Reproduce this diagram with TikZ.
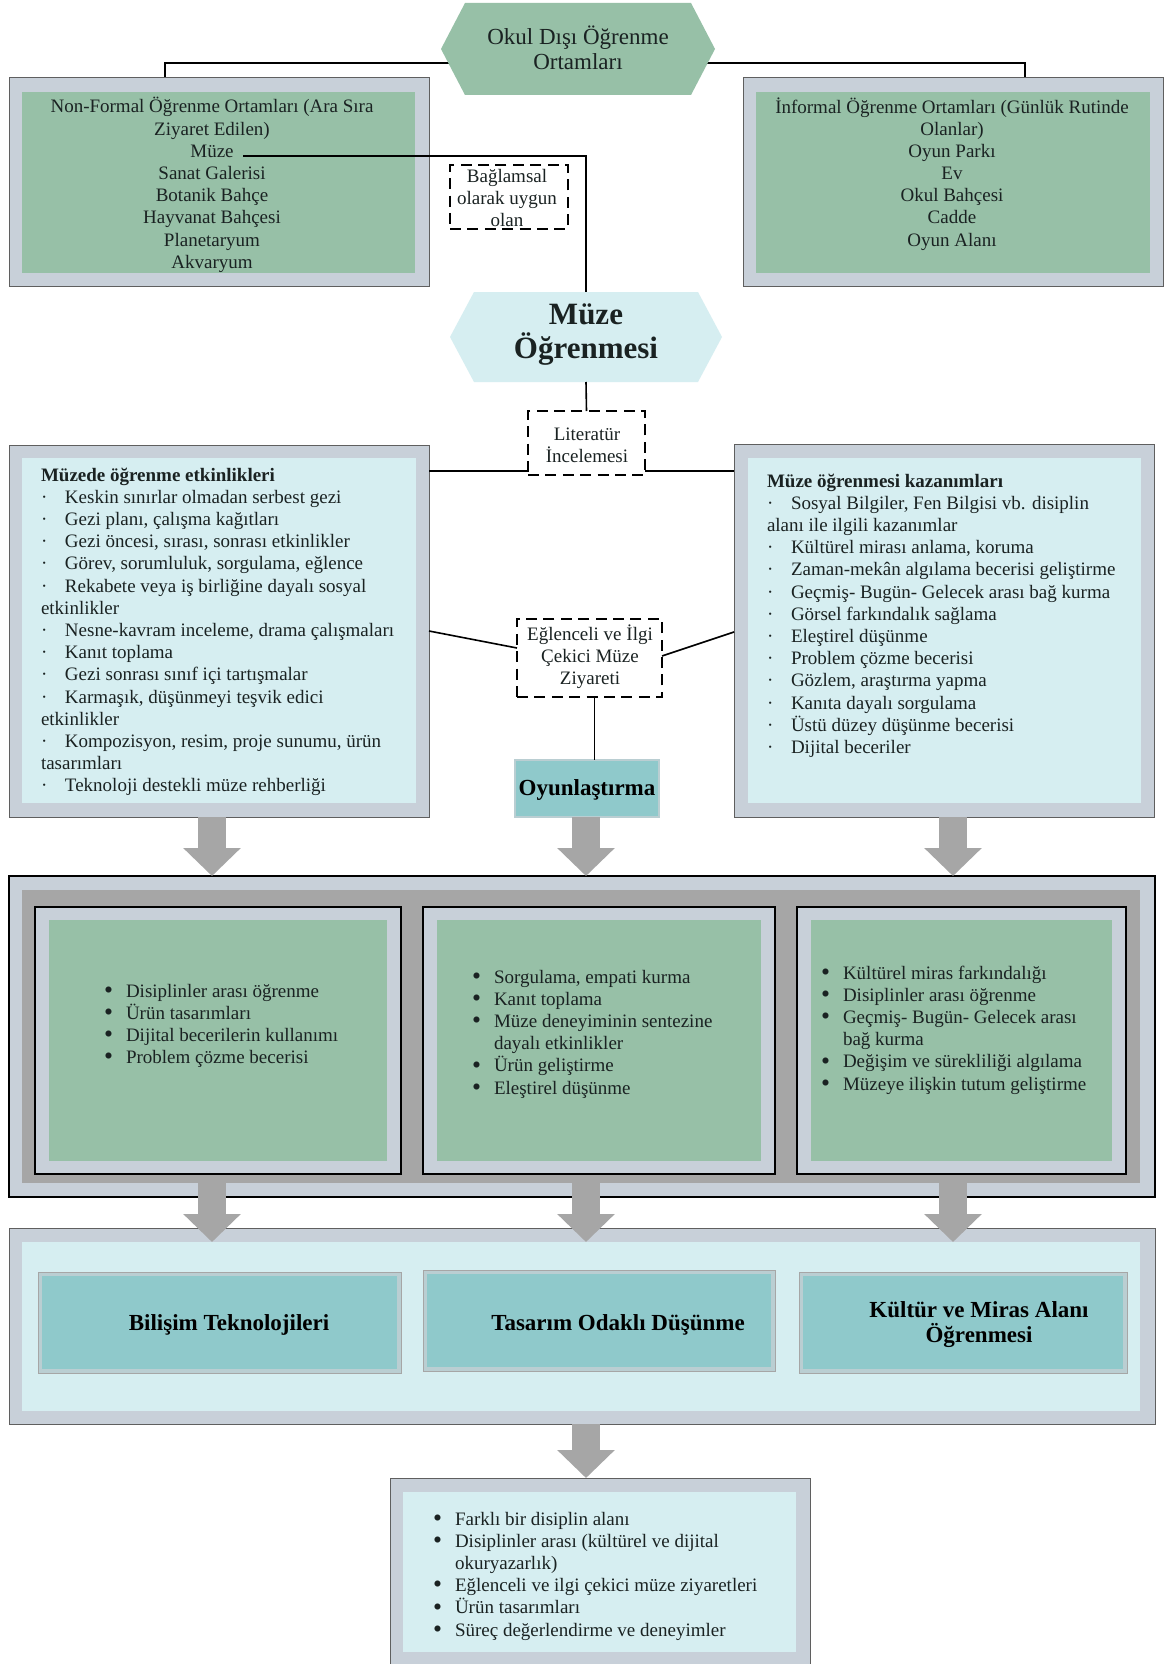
\documentclass[tikz,border=0pt]{standalone}
\usepackage{fontspec}
\setmainfont{Liberation Serif}
\usetikzlibrary{arrows.meta,calc}
\definecolor{sage}{RGB}{151,192,167}
\definecolor{frame}{RGB}{200,208,217}
\definecolor{pale}{RGB}{214,238,241}
\definecolor{teal2}{RGB}{143,201,203}
\definecolor{tealedge}{RGB}{186,206,210}
\definecolor{steel}{RGB}{166,166,166}
\definecolor{ink}{RGB}{26,34,34}
\definecolor{edge}{RGB}{95,95,95}
\pgfdeclarelayer{back}
\pgfsetlayers{back,main}
% box from pixel corners (x1,y1)-(x2,y2)
\newcommand\bx[6]{%
  \pgfmathsetmacro\bxw{(#4-#2)*0.5}%
  \pgfmathsetmacro\bxh{(#5-#3)*0.5}%
  \node[#6,anchor=north west,inner sep=0pt,outer sep=0pt,
        minimum width=\bxw pt,minimum height=\bxh pt] (#1) at (#2,#3) {};}
% flat-topped hexagon filling a named box
\newcommand\hexof[3]{\fill[#3] (#1.west) -- ($(#1.north west)+(#2,0)$)
  -- ($(#1.north east)+(-#2,0)$) -- (#1.east) -- ($(#1.south east)+(-#2,0)$)
  -- ($(#1.south west)+(#2,0)$) -- cycle;}
\newcommand\md{\makebox[12pt][l]{·}}
\newcommand\bl{\makebox[11pt][l]{\raisebox{-0.15ex}{\scalebox{1.35}{•}}}}
\newcommand\ind{\hspace*{11pt}}
\newcommand\fst{\rule{0pt}{9pt}}
\begin{document}
\begin{tikzpicture}[x=0.5pt,y=-0.5pt,
  frm/.style={fill=frame,draw=edge,line width=0.5pt},
  sg/.style={fill=sage},
  pl/.style={fill=pale},
  dbox/.style={draw=black,line width=1.2pt,dash pattern=on 5.5pt off 3.2pt},
  conn/.style={draw=black,line width=0.8pt},
  barrow/.style={draw=steel,line width=14pt,-{Triangle[width=28pt,length=14pt]}},
  txt/.style={inner sep=0pt,outer sep=0pt,text=ink,font=\fontsize{9.5}{11.1}\selectfont},
  boldbig/.style={inner sep=0pt,outer sep=0pt,text=black,font=\fontsize{11.5}{12.5}\selectfont\bfseries},
  ]
\useasboundingbox (0,0) rectangle (1165,1664);
\begin{pgfonlayer}{back}
  \fill[white] (0,0) rectangle (1165,1664);
\end{pgfonlayer}

% axis helpers
\coordinate (ax1) at (212,0);
\coordinate (ax2) at (586,0);
\coordinate (ax3) at (953,0);
\coordinate (h1) at (0,471);
\coordinate (h2) at (0,631);
\coordinate (h3) at (0,648);
\coordinate (h4) at (0,656);
\coordinate (h5) at (0,632);

% ---------- top level ----------
\bx{okul}{441}{3}{715}{95}{}
\hexof{okul}{24}{sage}
\node[txt,font=\fontsize{11.5}{12.5}\selectfont,align=center,anchor=north] (okultxt) at (578,23)
  {\rule{0pt}{11pt}Okul Dışı Öğrenme\\Ortamları};

\bx{nf}{9}{78}{429}{286}{frm}
\bx{nfin}{22}{92}{415}{273}{sg}
\node[txt,align=center,anchor=north] (nftxt) at (212,95)
  {\fst Non-Formal Öğrenme Ortamları (Ara Sıra\\Ziyaret Edilen)\\Müze\\Sanat Galerisi\\Botanik Bahçe\\Hayvanat Bahçesi\\Planetaryum\\Akvaryum};
\coordinate (muzeend) at (243,156);

\bx{inf}{743}{78}{1163}{286}{frm}
\bx{infin}{756}{92}{1150}{273}{sg}
\node[txt,align=center,anchor=north] (inftxt) at (952,95)
  {\fst İnformal Öğrenme Ortamları (Günlük Rutinde\\Olanlar)\\Oyun Parkı\\Ev\\Okul Bahçesi\\Cadde\\Oyun Alanı};

\begin{pgfonlayer}{back}
  \draw[conn] ($(okul.center)+(0,14)$) -| ($(nf.north west)+(156,0)$);
  \draw[conn] ($(okul.center)+(0,14)$) -| ($(inf.north west)+(282,0)$);
\end{pgfonlayer}

\bx{bag}{450}{165}{568}{229}{dbox}
\node[txt,align=center,anchor=north] (bagtxt) at (507,164)
  {\fst Bağlamsal\\olarak uygun\\olan};

% ---------- museum learning ----------
\bx{muze}{450}{292}{722}{382}{}
\hexof{muze}{24}{pale}
\node[inner sep=0pt,outer sep=0pt,text=ink,font=\fontsize{15.5}{17}\selectfont\bfseries,align=center,anchor=north] (muzetxt) at (586,294)
  {\rule{0pt}{15pt}Müze\\Öğrenmesi};
\draw[conn] (muzeend) -| (muze.north);

\bx{lit}{528}{411}{645}{475}{dbox}
\node[txt,align=center,anchor=north] (littxt) at (587,422)
  {\fst Literatür\\İncelemesi};
\draw[conn] (muze.south) -- (lit.north);

\bx{lm}{9}{445}{429}{817}{frm}
\bx{lmin}{22}{458}{416}{803}{pl}
\node[txt,align=left,anchor=north west] (lmtxt) at (41,463)
  {\fst\textbf{Müzede öğrenme etkinlikleri}\\
   \md Keskin sınırlar olmadan serbest gezi\\
   \md Gezi planı, çalışma kağıtları\\
   \md Gezi öncesi, sırası, sonrası etkinlikler\\
   \md Görev, sorumluluk, sorgulama, eğlence\\
   \md Rekabete veya iş birliğine dayalı sosyal\\
   etkinlikler\\
   \md Nesne-kavram inceleme, drama çalışmaları\\
   \md Kanıt toplama\\
   \md Gezi sonrası sınıf içi tartışmalar\\
   \md Karmaşık, düşünmeyi teşvik edici\\
   etkinlikler\\
   \md Kompozisyon, resim, proje sunumu, ürün\\
   tasarımları\\
   \md Teknoloji destekli müze rehberliği};

\bx{rm}{734}{444}{1154}{817}{frm}
\bx{rmin}{748}{458}{1141}{803}{pl}
\node[txt,align=left,anchor=north west] (rmtxt) at (767,469)
  {\fst\textbf{Müze öğrenmesi kazanımları}\\
   \md Sosyal Bilgiler, Fen Bilgisi vb. disiplin\\
   alanı ile ilgili kazanımlar\\
   \md Kültürel mirası anlama, koruma\\
   \md Zaman-mekân algılama becerisi geliştirme\\
   \md Geçmiş- Bugün- Gelecek arası bağ kurma\\
   \md Görsel farkındalık sağlama\\
   \md Eleştirel düşünme\\
   \md Problem çözme becerisi\\
   \md Gözlem, araştırma yapma\\
   \md Kanıta dayalı sorgulama\\
   \md Üstü düzey düşünme becerisi\\
   \md Dijital beceriler};

\draw[conn] (lm.east |- h1) -- (lit.west |- h1);
\draw[conn] (lit.east |- h1) -- (rm.west |- h1);

\bx{egl}{517}{619}{662}{697}{dbox}
\node[txt,align=center,anchor=north] (egltxt) at (590,622)
  {\fst Eğlenceli ve İlgi\\Çekici Müze\\Ziyareti};
\draw[conn] (lm.east |- h2) -- (egl.west |- h3);
\draw[conn] (egl.east |- h4) -- (rm.west |- h5);

\bx{oyun}{515}{760}{659}{817}{fill=teal2,draw=tealedge,line width=0.8pt}
\node[boldbig,anchor=base] (oyuntxt) at (587,795) {Oyunlaştırma};
\coordinate (eglb) at ($(egl.south)+(5,0)$);
\draw[conn] (eglb) -- (eglb |- oyun.north);

% ---------- three panels ----------
\bx{cont}{9}{876}{1155}{1197}{fill=frame,draw=black,line width=0.6pt}
\bx{contin}{22}{890}{1140}{1183}{fill=steel}
\bx{p1}{35}{907}{401}{1174}{fill=frame,draw=black,line width=0.6pt}
\bx{p1in}{49}{920}{387}{1161}{sg}
\bx{p2}{423}{907}{775}{1174}{fill=frame,draw=black,line width=0.6pt}
\bx{p2in}{437}{920}{761}{1161}{sg}
\bx{p3}{797}{907}{1126}{1174}{fill=frame,draw=black,line width=0.6pt}
\bx{p3in}{811}{920}{1112}{1161}{sg}

\node[txt,align=left,anchor=north west] (p1txt) at (104,979)
  {\fst\bl Disiplinler arası öğrenme\\
   \bl Ürün tasarımları\\
   \bl Dijital becerilerin kullanımı\\
   \bl Problem çözme becerisi};
\node[txt,align=left,anchor=north west] (p2txt) at (472,965)
  {\fst\bl Sorgulama, empati kurma\\
   \bl Kanıt toplama\\
   \bl Müze deneyiminin sentezine\\
   \ind dayalı etkinlikler\\
   \bl Ürün geliştirme\\
   \bl Eleştirel düşünme};
\node[txt,align=left,anchor=north west] (p3txt) at (821,961)
  {\fst\bl Kültürel miras farkındalığı\\
   \bl Disiplinler arası öğrenme\\
   \bl Geçmiş- Bugün- Gelecek arası\\
   \ind bağ kurma\\
   \bl Değişim ve sürekliliği algılama\\
   \bl Müzeye ilişkin tutum geliştirme};

\draw[barrow] (lm.south -| ax1) -- (cont.north -| ax1);
\draw[barrow] (oyun.south -| ax2) -- (cont.north -| ax2);
\draw[barrow] (rm.south -| ax3) -- (cont.north -| ax3);

% ---------- fields ----------
\bx{bc}{9}{1228}{1155}{1424}{frm}
\bx{bcin}{22}{1242}{1140}{1411}{pl}
\bx{t1}{38}{1272}{401}{1373}{fill=tealedge,draw=gray!70,line width=0.4pt}
\bx{t1in}{42}{1276}{397}{1369}{fill=teal2}
\bx{t2}{423}{1270}{775}{1371}{fill=tealedge,draw=gray!70,line width=0.4pt}
\bx{t2in}{427}{1274}{771}{1367}{fill=teal2}
\bx{t3}{799}{1272}{1127}{1373}{fill=tealedge,draw=gray!70,line width=0.4pt}
\bx{t3in}{803}{1276}{1123}{1369}{fill=teal2}
\node[boldbig,anchor=base] (t1txt) at (229,1330) {Bilişim Teknolojileri};
\node[boldbig,anchor=base] (t2txt) at (618,1330) {Tasarım Odaklı Düşünme};
\node[boldbig,align=center,anchor=north] (t3txt) at (979,1295)
  {\rule{0pt}{11pt}Kültür ve Miras Alanı\\Öğrenmesi};

\draw[barrow] (contin.south -| ax1) -- (bcin.north -| ax1);
\draw[barrow] (contin.south -| ax2) -- (bcin.north -| ax2);
\draw[barrow] (contin.south -| ax3) -- (bcin.north -| ax3);

% ---------- outcome ----------
\bx{fb}{390}{1478}{810}{1670}{frm}
\bx{fbin}{403}{1492}{796}{1652}{pl}
\node[txt,align=left,anchor=north west] (fbtxt) at (433,1507)
  {\fst\bl Farklı bir disiplin alanı\\
   \bl Disiplinler arası (kültürel ve dijital\\
   \ind okuryazarlık)\\
   \bl Eğlenceli ve ilgi çekici müze ziyaretleri\\
   \bl Ürün tasarımları\\
   \bl Süreç değerlendirme ve deneyimler};
\draw[barrow] (bc.south -| ax2) -- (fb.north -| ax2);
\end{tikzpicture}
\end{document}
